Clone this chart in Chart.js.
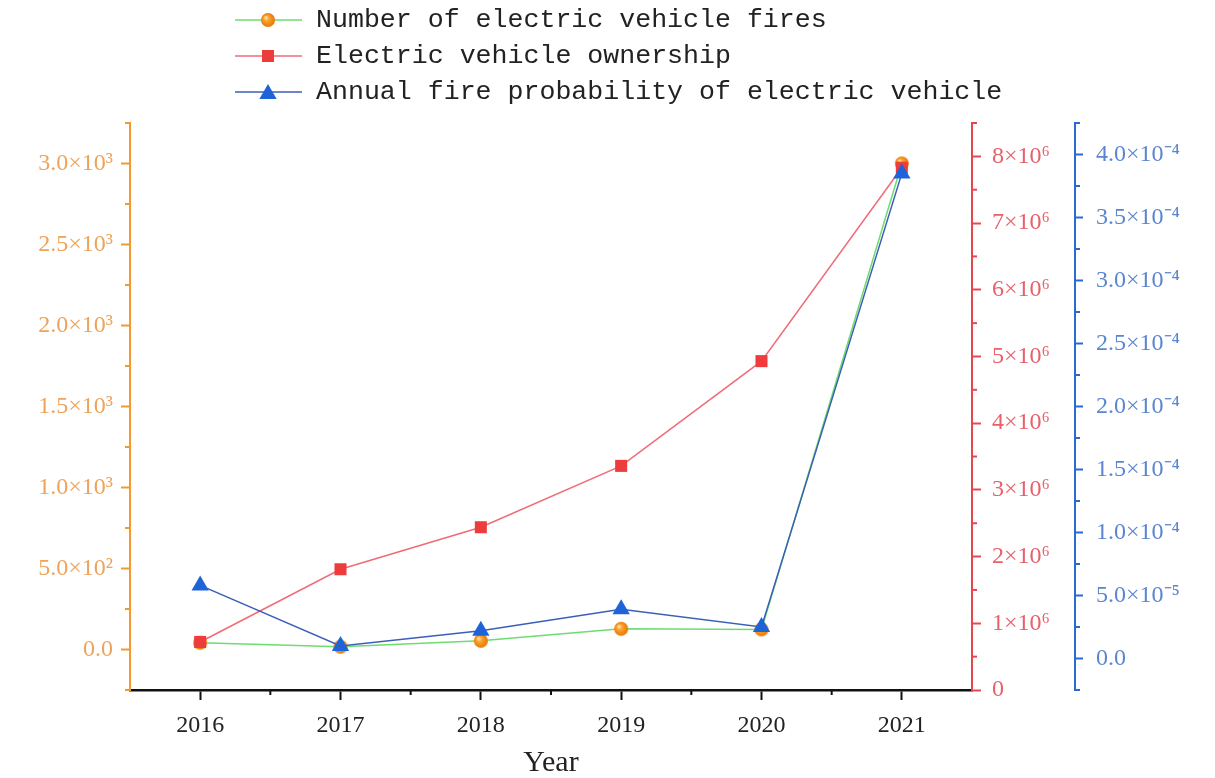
<!DOCTYPE html>
<html>
<head>
<meta charset="utf-8">
<script src="https://cdn.jsdelivr.net/npm/chart.js@4.4.0/dist/chart.umd.min.js"></script>
<style>
html, body { margin: 0; padding: 0; background: #fff; }
#wrap { width: 1215px; height: 778px; }
</style>
</head>
<body>
<div id="wrap"><canvas id="chart" width="1215" height="778"></canvas></div>
<script>
// datos
const years = ['2016', '2017', '2018', '2019', '2020', '2021'];
const fires = [42, 17, 54, 128, 124, 3000];
const ownership = [0.72e6, 1.81e6, 2.44e6, 3.36e6, 4.93e6, 7.83e6];
const probability = [5.8e-5, 1.0e-5, 2.2e-5, 3.9e-5, 2.5e-5, 3.85e-4];

const seriesNames = ['Number of electric vehicle fires', 'Electric vehicle ownership', 'Annual fire probability of electric vehicle'];

// ticks de cada eje
const fireTicks = [0, 500, 1000, 1500, 2000, 2500, 3000];
const fireLabels = ['0.0', '5.0×10²', '1.0×10³', '1.5×10³', '2.0×10³', '2.5×10³', '3.0×10³'];
const ownerTicks = [0, 1e6, 2e6, 3e6, 4e6, 5e6, 6e6, 7e6, 8e6];
const ownerLabels = ['0', '1×10⁶', '2×10⁶', '3×10⁶', '4×10⁶', '5×10⁶', '6×10⁶', '7×10⁶', '8×10⁶'];
const probTicks = [0, 5e-5, 1e-4, 1.5e-4, 2e-4, 2.5e-4, 3e-4, 3.5e-4, 4e-4];
const probLabels = ['0.0', '5.0×10⁻⁵', '1.0×10⁻⁴', '1.5×10⁻⁴', '2.0×10⁻⁴', '2.5×10⁻⁴', '3.0×10⁻⁴', '3.5×10⁻⁴', '4.0×10⁻⁴'];

const colores = {
    naranja: '#f39a2e', naranjaTxt: '#eea35a',
    rojo: '#e8464f', rojoTxt: '#e8606a',
    azul: '#2a6bd0', azulTxt: '#5b86cf',
    verde: '#6fdc6f', lineaRoja: '#f06b78', lineaAzul: '#3a5fb8'
};

// marcador tipo esfera naranja
function crearEsfera(r) {
    const c = document.createElement('canvas');
    c.width = r * 2 + 2; c.height = r * 2 + 2;
    const g = c.getContext('2d');
    const cx = r + 1, cy = r + 1;
    const grad = g.createRadialGradient(cx - r * 0.35, cy - r * 0.35, r * 0.1, cx, cy, r);
    grad.addColorStop(0, '#ffe0a0');
    grad.addColorStop(0.35, '#fba030');
    grad.addColorStop(1, '#e87800');
    g.fillStyle = grad;
    g.beginPath();
    g.arc(cx, cy, r, 0, Math.PI * 2);
    g.fill();
    return c;
}
const esfera = crearEsfera(7);

const fuenteSerif = 'Liberation Serif';

function fijarAncho(w) {
    return function(scale) { scale.width = w; };
}

// ticks menores
const minorTicks = {
    id: 'minorTicks',
    afterDraw(chart) {
        const ctx = chart.ctx;
        const ejes = [
            { id: 'yFires', color: colores.naranja, side: 'left' },
            { id: 'yOwner', color: colores.rojo, side: 'right' },
            { id: 'yProb', color: colores.azul, side: 'right' }
        ];
        ctx.save();
        ctx.lineWidth = 2;
        ejes.forEach(e => {
            const s = chart.scales[e.id];
            const paso = s.ticks[1].value - s.ticks[0].value;
            ctx.strokeStyle = e.color;
            for (let v = s.ticks[0].value - paso / 2; v <= s.max + paso * 1e-6; v += paso) {
                if (v < s.min - paso * 1e-6) continue;
                const y = s.getPixelForValue(v);
                ctx.beginPath();
                if (e.side === 'left') {
                    ctx.moveTo(s.right - 5, y); ctx.lineTo(s.right, y);
                } else {
                    ctx.moveTo(s.left, y); ctx.lineTo(s.left + 5, y);
                }
                ctx.stroke();
            }
        });
        const x = chart.scales.x;
        ctx.strokeStyle = '#111';
        for (let i = 0; i < years.length - 1; i++) {
            const px = x.getPixelForValue(i + 0.5);
            ctx.beginPath();
            ctx.moveTo(px, x.top); ctx.lineTo(px, x.top + 5);
            ctx.stroke();
        }
        ctx.restore();
    }
};

// leyenda dibujada a mano (linea + marcador + texto)
const leyenda = {
    id: 'leyenda',
    afterDraw(chart) {
        const ctx = chart.ctx;
        ctx.save();
        chart.data.datasets.forEach((ds, i) => {
            const y = 20 + i * 36;
            ctx.strokeStyle = ds.borderColor;
            ctx.lineWidth = 1.5;
            ctx.beginPath();
            ctx.moveTo(235, y); ctx.lineTo(302, y);
            ctx.stroke();
            const r = ds.pointRadius;
            if (ds.pointStyle === esfera) {
                ctx.drawImage(esfera, 268 - esfera.width / 2, y - esfera.height / 2);
            } else {
                ctx.fillStyle = ds.pointBackgroundColor;
                ctx.beginPath();
                if (ds.pointStyle === 'rect') {
                    const t = r * Math.SQRT1_2;
                    ctx.rect(268 - t, y - t, t * 2, t * 2);
                } else {
                    const yy = y + 2;
                    ctx.moveTo(268, yy - r);
                    ctx.lineTo(268 + r * Math.sin(Math.PI / 3), yy + r / 2);
                    ctx.lineTo(268 - r * Math.sin(Math.PI / 3), yy + r / 2);
                    ctx.closePath();
                }
                ctx.fill();
            }
            ctx.fillStyle = '#222';
            ctx.font = '26.6px "Liberation Mono"';
            ctx.textBaseline = 'middle';
            ctx.fillText(ds.label, 316, y);
        });
        ctx.restore();
    }
};

const ctx = document.getElementById('chart').getContext('2d');
const chart = new Chart(ctx, {
    type: 'line',
    data: {
        labels: years,
        datasets: [{
            label: seriesNames[0],
            data: fires,
            yAxisID: 'yFires',
            borderColor: colores.verde,
            borderWidth: 1.5,
            pointStyle: esfera,
            pointRadius: 7,
            pointBackgroundColor: '#f08c00',
            pointBorderWidth: 0,
            order: 3
        }, {
            label: seriesNames[1],
            data: ownership,
            yAxisID: 'yOwner',
            borderColor: colores.lineaRoja,
            borderWidth: 1.5,
            pointStyle: 'rect',
            pointRadius: 8.5,
            pointBackgroundColor: '#ee3b3b',
            pointBorderColor: '#ee3b3b',
            pointBorderWidth: 0,
            order: 2
        }, {
            label: seriesNames[2],
            data: probability,
            yAxisID: 'yProb',
            borderColor: colores.lineaAzul,
            borderWidth: 1.5,
            pointStyle: 'triangle',
            pointRadius: 10,
            pointBackgroundColor: '#1e64d8',
            pointBorderColor: '#1e64d8',
            pointBorderWidth: 0,
            order: 1
        }]
    },
    options: {
        responsive: false,
        animation: false,
        devicePixelRatio: 1,
        clip: false,
        elements: { line: { tension: 0 } },
        layout: { padding: { top: 123, left: 0, right: 0, bottom: 0 } },
        plugins: {
            legend: { display: false },
            tooltip: { enabled: false }
        },
        scales: {
            x: {
                type: 'category',
                offset: true,
                afterFit: function(scale) { scale.height = 88; },
                grid: { drawOnChartArea: false, offset: false, tickLength: 10, tickColor: '#111', tickWidth: 2 },
                border: { display: true, color: '#111', width: 2.5 },
                ticks: { color: '#222', font: { family: fuenteSerif, size: 24 }, padding: 11, maxRotation: 0 },
                title: { display: true, text: 'Year', color: '#222', font: { family: fuenteSerif, size: 30, lineHeight: 1 }, padding: { top: 0, bottom: 0 } }
            },
            yFires: {
                type: 'linear',
                position: 'left',
                min: -250,
                max: 3250,
                afterFit: fijarAncho(130),
                afterBuildTicks: function(scale) { scale.ticks = fireTicks.map(v => ({ value: v })); },
                grid: { drawOnChartArea: false, tickLength: 9, tickColor: colores.naranja, tickWidth: 2 },
                border: { display: true, color: colores.naranja, width: 2 },
                ticks: { color: colores.naranjaTxt, font: { family: fuenteSerif, size: 24 }, padding: 8,
                    callback: function(v, i) { return fireLabels[i]; } }
            },
            yOwner: {
                type: 'linear',
                position: 'right',
                weight: 1,
                min: 0,
                max: 8.5e6,
                afterFit: fijarAncho(103),
                afterBuildTicks: function(scale) { scale.ticks = ownerTicks.map(v => ({ value: v })); },
                grid: { drawOnChartArea: false, tickLength: 9, tickColor: colores.rojo, tickWidth: 2 },
                border: { display: true, color: colores.rojo, width: 2 },
                ticks: { color: colores.rojoTxt, font: { family: fuenteSerif, size: 24 }, padding: 11,
                    callback: function(v, i) { return ownerLabels[i]; } }
            },
            yProb: {
                type: 'linear',
                position: 'right',
                weight: 2,
                min: -2.5e-5,
                max: 4.25e-4,
                afterFit: fijarAncho(140),
                afterBuildTicks: function(scale) { scale.ticks = probTicks.map(v => ({ value: v })); },
                grid: { drawOnChartArea: false, tickLength: 8, tickColor: colores.azul, tickWidth: 2 },
                border: { display: true, color: colores.azul, width: 2 },
                ticks: { color: colores.azulTxt, font: { family: fuenteSerif, size: 24 }, padding: 13,
                    callback: function(v, i) { return probLabels[i]; } }
            }
        }
    },
    plugins: [minorTicks, leyenda]
});
</script>
</body>
</html>
